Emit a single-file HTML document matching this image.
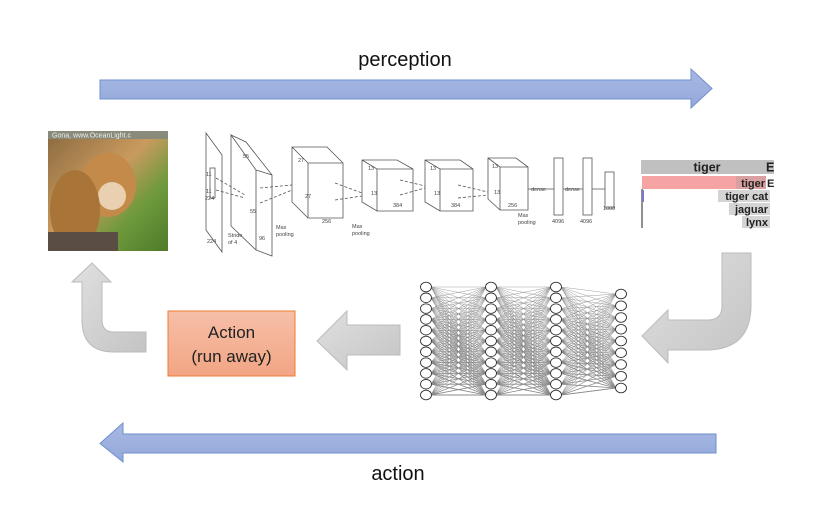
<!DOCTYPE html>
<html><head><meta charset="utf-8">
<style>
body{margin:0;background:#fff;}
svg{display:block;font-family:"Liberation Sans",sans-serif;}
</style></head><body>
<svg width="826" height="532" viewBox="0 0 826 532" xmlns="http://www.w3.org/2000/svg">
<defs>
<linearGradient id="blue" x1="0" y1="0" x2="0" y2="1"><stop offset="0" stop-color="#a9b9e3"/><stop offset="1" stop-color="#93a8da"/></linearGradient>
<linearGradient id="gray" x1="0" y1="0" x2="1" y2="1"><stop offset="0" stop-color="#e0e0e0"/><stop offset="1" stop-color="#c4c4c4"/></linearGradient>
<linearGradient id="org" x1="0" y1="0" x2="0" y2="1"><stop offset="0" stop-color="#f6bfa8"/><stop offset="1" stop-color="#f2a584"/></linearGradient>
<linearGradient id="tg" x1="0" y1="0" x2="1" y2="1"><stop offset="0" stop-color="#8a6a40"/><stop offset="0.45" stop-color="#c99a5e"/><stop offset="0.7" stop-color="#6f9a3c"/><stop offset="1" stop-color="#4f7a2a"/></linearGradient>
<path id="fanA" d="M0 287L55 287M0 287L55 297.8M0 287L55 308.6M0 287L55 319.4M0 287L55 330.2M0 287L55 341M0 287L55 351.8M0 287L55 362.6M0 287L55 373.4M0 287L55 384.2M0 287L55 395" stroke="#888" stroke-width="0.4" fill="none"/>
<path id="fanB" d="M0 287L55 294M0 287L55 305.75M0 287L55 317.5M0 287L55 329.25M0 287L55 341M0 287L55 352.75M0 287L55 364.5M0 287L55 376.25M0 287L55 388" stroke="#888" stroke-width="0.4" fill="none"/>
<g id="fanGroupA">
<use href="#fanA"/>
<use href="#fanA" transform="matrix(1,-0.19636,0,1,0,10.8)"/>
<use href="#fanA" transform="matrix(1,-0.39273,0,1,0,21.6)"/>
<use href="#fanA" transform="matrix(1,-0.58909,0,1,0,32.4)"/>
<use href="#fanA" transform="matrix(1,-0.78545,0,1,0,43.2)"/>
<use href="#fanA" transform="matrix(1,-0.98182,0,1,0,54)"/>
<use href="#fanA" transform="matrix(1,-1.17818,0,1,0,64.8)"/>
<use href="#fanA" transform="matrix(1,-1.37455,0,1,0,75.6)"/>
<use href="#fanA" transform="matrix(1,-1.57091,0,1,0,86.4)"/>
<use href="#fanA" transform="matrix(1,-1.76727,0,1,0,97.2)"/>
<use href="#fanA" transform="matrix(1,-1.96364,0,1,0,108)"/>
</g>
<g id="fanGroupB">
<use href="#fanB"/>
<use href="#fanB" transform="matrix(1,-0.19636,0,1,0,10.8)"/>
<use href="#fanB" transform="matrix(1,-0.39273,0,1,0,21.6)"/>
<use href="#fanB" transform="matrix(1,-0.58909,0,1,0,32.4)"/>
<use href="#fanB" transform="matrix(1,-0.78545,0,1,0,43.2)"/>
<use href="#fanB" transform="matrix(1,-0.98182,0,1,0,54)"/>
<use href="#fanB" transform="matrix(1,-1.17818,0,1,0,64.8)"/>
<use href="#fanB" transform="matrix(1,-1.37455,0,1,0,75.6)"/>
<use href="#fanB" transform="matrix(1,-1.57091,0,1,0,86.4)"/>
<use href="#fanB" transform="matrix(1,-1.76727,0,1,0,97.2)"/>
<use href="#fanB" transform="matrix(1,-1.96364,0,1,0,108)"/>
</g>
<g id="col11" fill="#fff" stroke="#333" stroke-width="0.9">
<ellipse cx="0" cy="287" rx="5.5" ry="4.8"/><ellipse cx="0" cy="297.8" rx="5.5" ry="4.8"/><ellipse cx="0" cy="308.6" rx="5.5" ry="4.8"/><ellipse cx="0" cy="319.4" rx="5.5" ry="4.8"/><ellipse cx="0" cy="330.2" rx="5.5" ry="4.8"/><ellipse cx="0" cy="341" rx="5.5" ry="4.8"/><ellipse cx="0" cy="351.8" rx="5.5" ry="4.8"/><ellipse cx="0" cy="362.6" rx="5.5" ry="4.8"/><ellipse cx="0" cy="373.4" rx="5.5" ry="4.8"/><ellipse cx="0" cy="384.2" rx="5.5" ry="4.8"/><ellipse cx="0" cy="395" rx="5.5" ry="4.8"/>
</g>
<g id="col9" fill="#fff" stroke="#333" stroke-width="0.9">
<ellipse cx="0" cy="294" rx="5.5" ry="4.8"/><ellipse cx="0" cy="305.75" rx="5.5" ry="4.8"/><ellipse cx="0" cy="317.5" rx="5.5" ry="4.8"/><ellipse cx="0" cy="329.25" rx="5.5" ry="4.8"/><ellipse cx="0" cy="341" rx="5.5" ry="4.8"/><ellipse cx="0" cy="352.75" rx="5.5" ry="4.8"/><ellipse cx="0" cy="364.5" rx="5.5" ry="4.8"/><ellipse cx="0" cy="376.25" rx="5.5" ry="4.8"/><ellipse cx="0" cy="388" rx="5.5" ry="4.8"/>
</g>
</defs>

<!-- perception arrow -->
<text x="405" y="66" font-size="20" text-anchor="middle" fill="#111">perception</text>
<path d="M100 80 H691 V69 L712 88.5 L691 108 V99 H100 Z" fill="url(#blue)" stroke="#6f8fd0" stroke-width="1"/>

<!-- action arrow -->
<path d="M716 434 H123 V423 L100 443.5 L123 462 V453 H716 Z" fill="url(#blue)" stroke="#6f8fd0" stroke-width="1"/>
<text x="398" y="480" font-size="20" text-anchor="middle" fill="#111">action</text>

<!-- tiger image -->
<rect x="48" y="131" width="120" height="120" fill="url(#tg)"/>
<ellipse cx="108" cy="185" rx="28" ry="32" fill="#c48a4a"/>
<ellipse cx="112" cy="196" rx="14" ry="14" fill="#e8d0b0"/>
<ellipse cx="75" cy="210" rx="25" ry="40" fill="#a87438"/>
<rect x="48" y="232" width="70" height="19" fill="#5a4e44"/>
<rect x="48" y="131" width="120" height="8" fill="#8a8a7a"/>
<text x="52" y="137.5" font-size="7" fill="#eee">Gona, www.OceanLight.c</text>

<!-- CNN sketch -->
<g fill="none" stroke="#555" stroke-width="0.8">
<path d="M206 133 L222 155 V252 L206 230 Z"/>
<rect x="210" y="168" width="5" height="30"/>
<path d="M231 135 L246 142 L272 175 V256 L256 250 V170 L231 135 Z M231 135 V226 L256 250 M256 170 L272 175"/>
<path d="M292 147 L327 147 L343 163 V218 L308 218 L292 202 Z M308 163 H343 M308 163 V218 M292 147 L308 163"/>
<path d="M362 160 H397 L413 169 V211 H377 L362 202 Z M377 169 H413 M377 169 V211 M362 160 L377 169"/>
<path d="M425 160 H460 L473 169 V211 H440 L425 202 Z M440 169 H473 M440 169 V211 M425 160 L440 169"/>
<path d="M488 158 H516 L528 167 V210 H500 L488 199 Z M500 167 H528 M500 167 V210 M488 158 L500 167"/>
<rect x="554" y="158" width="9" height="57"/>
<rect x="583" y="158" width="9" height="57"/>
<rect x="605" y="172" width="9" height="36"/>
<path stroke-dasharray="3 2" d="M216 178 L245 195 M216 190 L245 198 M260 188 L292 185 M260 203 L292 190 M335 183 L362 193 M335 200 L362 196 M400 180 L425 186 M400 195 L425 188 M458 185 L488 192 M458 198 L488 195"/>
<path d="M528 189 H554 M563 189 H583 M592 189 H605"/>
</g>
<g font-size="5.5" fill="#444">
<text x="206" y="176">11</text><text x="206" y="193">11</text><text x="205" y="200">224</text><text x="207" y="243">224</text>
<text x="243" y="158">55</text><text x="250" y="213">55</text><text x="259" y="240">96</text><text x="228" y="237">Stride</text><text x="228" y="244">of 4</text>
<text x="276" y="229">Max</text><text x="276" y="236">pooling</text>
<text x="298" y="162">27</text><text x="305" y="198">27</text><text x="322" y="223">256</text>
<text x="352" y="228">Max</text><text x="352" y="235">pooling</text>
<text x="368" y="170">13</text><text x="371" y="195">13</text><text x="393" y="207">384</text>
<text x="430" y="170">13</text><text x="434" y="195">13</text><text x="451" y="207">384</text>
<text x="492" y="168">13</text><text x="494" y="194">13</text><text x="508" y="207">256</text>
<text x="518" y="217">Max</text><text x="518" y="224">pooling</text>
<text x="531" y="191">dense</text><text x="565" y="191">dense</text>
<text x="552" y="223">4096</text><text x="580" y="223">4096</text><text x="603" y="210">1000</text>
</g>

<!-- classifier panel -->
<rect x="641" y="160" width="133" height="14" fill="#c0c0c0"/>
<text x="707" y="171.5" font-size="12.5" font-weight="bold" text-anchor="middle" fill="#222">tiger</text>
<text x="766" y="171.5" font-size="12.5" font-weight="bold" fill="#222">E</text>
<rect x="642" y="176" width="124" height="13" fill="#f5a3a3"/>
<rect x="736" y="176" width="30" height="13" fill="#d8a0a0"/>
<text x="765" y="187" font-size="11" font-weight="bold" text-anchor="end" fill="#222">tiger</text>
<text x="767" y="187" font-size="11" font-weight="bold" fill="#222">E</text>
<rect x="718" y="190" width="52" height="12" fill="#d4d4d4"/>
<text x="768" y="200" font-size="11" font-weight="bold" text-anchor="end" fill="#222">tiger cat</text>
<rect x="729" y="203" width="41" height="12" fill="#d4d4d4"/>
<text x="768" y="213" font-size="11" font-weight="bold" text-anchor="end" fill="#222">jaguar</text>
<rect x="742" y="216" width="28" height="12" fill="#d4d4d4"/>
<text x="768" y="226" font-size="11" font-weight="bold" text-anchor="end" fill="#222">lynx</text>
<line x1="642" y1="189" x2="642" y2="228" stroke="#222" stroke-width="1"/>
<rect x="642" y="190" width="2" height="12" fill="#7a7acc"/>

<!-- right bent gray arrow -->
<path d="M722 253 H751 V305 Q751 350 706 350 H668 V363 L642 336 L668 310 V320 H708 Q722 320 722 306 Z" fill="url(#gray)" stroke="#bbb" stroke-width="1"/>

<!-- neural net -->
<use href="#fanGroupA" transform="translate(431,0)"/>
<use href="#fanGroupA" transform="translate(496,0)"/>
<use href="#fanGroupB" transform="translate(561,0)"/>
<use href="#col11" transform="translate(426,0)"/>
<use href="#col11" transform="translate(491,0)"/>
<use href="#col11" transform="translate(556,0)"/>
<use href="#col9" transform="translate(621,0)"/>

<!-- middle gray arrow -->
<path d="M400 325 H347 V311 L317 341 L347 370 V355 H400 Z" fill="url(#gray)" stroke="#bbb" stroke-width="1"/>

<!-- action box -->
<rect x="168" y="311" width="127" height="65" fill="url(#org)" stroke="#ed7d31" stroke-width="1"/>
<text x="231.5" y="338" font-size="17" text-anchor="middle" fill="#222">Action</text>
<text x="231.5" y="362" font-size="17" text-anchor="middle" fill="#222">(run away)</text>

<!-- left bent gray arrow -->
<path d="M146 332 H114 Q102 332 102 320 V282 H111 L92 263 L72 282 H82 V320 Q82 352 114 352 H146 Z" fill="url(#gray)" stroke="#bbb" stroke-width="1"/>
</svg>
</body></html>
